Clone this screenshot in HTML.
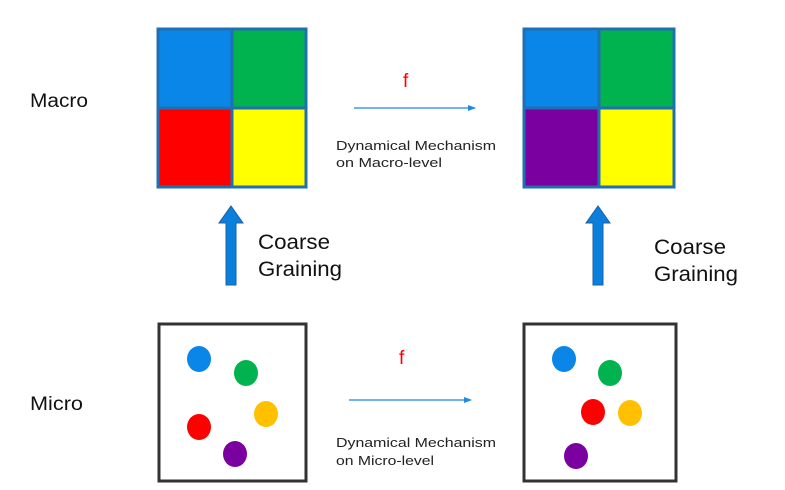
<!DOCTYPE html>
<html><head><style>
body{margin:0;width:785px;height:490px;background:#fff;overflow:hidden}
svg{display:block}
text{font-family:"Liberation Sans",sans-serif}
</style></head><body>
<svg width="785" height="490" viewBox="0 0 785 490">
<defs>
<marker id="ah" markerWidth="8" markerHeight="6" refX="7" refY="3" orient="auto" markerUnits="userSpaceOnUse"><path d="M0,0L8,3L0,6Z" fill="#1e88e5"/></marker>
</defs>
<rect x="158" y="29" width="74" height="79" fill="#0a86e8"/>
<rect x="232" y="29" width="74" height="79" fill="#00b34f"/>
<rect x="158" y="108" width="74" height="79" fill="#ff0000"/>
<rect x="232" y="108" width="74" height="79" fill="#ffff00"/>
<rect x="158" y="29" width="148" height="158" fill="none" stroke="#1f6fb5" stroke-width="3"/>
<line x1="232" y1="29" x2="232" y2="187" stroke="#1f6fb5" stroke-width="3"/>
<line x1="158" y1="108" x2="306" y2="108" stroke="#1f6fb5" stroke-width="3"/>
<rect x="524" y="29" width="75" height="79" fill="#0a86e8"/>
<rect x="599" y="29" width="75" height="79" fill="#00b34f"/>
<rect x="524" y="108" width="75" height="79" fill="#7a00a0"/>
<rect x="599" y="108" width="75" height="79" fill="#ffff00"/>
<rect x="524" y="29" width="150" height="158" fill="none" stroke="#1f6fb5" stroke-width="3"/>
<line x1="599" y1="29" x2="599" y2="187" stroke="#1f6fb5" stroke-width="3"/>
<line x1="524" y1="108" x2="674" y2="108" stroke="#1f6fb5" stroke-width="3"/>
<rect x="159" y="324" width="147" height="157" fill="none" stroke="#333" stroke-width="3"/>
<rect x="524" y="324" width="152" height="157" fill="none" stroke="#333" stroke-width="3"/>
<ellipse cx="199" cy="359" rx="12" ry="13" fill="#0a86e8"/>
<ellipse cx="246" cy="373" rx="12" ry="13" fill="#00b34f"/>
<ellipse cx="199" cy="427" rx="12" ry="13" fill="#ff0000"/>
<ellipse cx="266" cy="414" rx="12" ry="13" fill="#ffc000"/>
<ellipse cx="235" cy="454" rx="12" ry="13" fill="#7a00a0"/>
<ellipse cx="564" cy="359" rx="12" ry="13" fill="#0a86e8"/>
<ellipse cx="610" cy="373" rx="12" ry="13" fill="#00b34f"/>
<ellipse cx="593" cy="412" rx="12" ry="13" fill="#ff0000"/>
<ellipse cx="630" cy="413" rx="12" ry="13" fill="#ffc000"/>
<ellipse cx="576" cy="456" rx="12" ry="13" fill="#7a00a0"/>
<line x1="354" y1="108" x2="475" y2="108" stroke="#1e88e5" stroke-width="1.2" marker-end="url(#ah)"/>
<line x1="349" y1="400" x2="471" y2="400" stroke="#1e88e5" stroke-width="1.2" marker-end="url(#ah)"/>
<text x="403" y="87" fill="#ff0000" font-size="19">f</text>
<text x="399" y="364" fill="#ff0000" font-size="19">f</text>
<text x="336" y="150" font-size="13" fill="#222" textLength="160" lengthAdjust="spacingAndGlyphs">Dynamical Mechanism</text>
<text x="336" y="167" font-size="13" fill="#222" textLength="106" lengthAdjust="spacingAndGlyphs">on Macro-level</text>
<text x="336" y="447" font-size="13" fill="#222" textLength="160" lengthAdjust="spacingAndGlyphs">Dynamical Mechanism</text>
<text x="336" y="465" font-size="13" fill="#222" textLength="98" lengthAdjust="spacingAndGlyphs">on Micro-level</text>
<path d="M226,285V223H219L231,206L243,223H236V285Z" fill="#0a7fdc" stroke="#1f5f9f" stroke-width="1"/>
<path d="M593,285V223H586L598,206L610,223H603V285Z" fill="#0a7fdc" stroke="#1f5f9f" stroke-width="1"/>
<text x="258" y="249" font-size="21" fill="#111" textLength="72" lengthAdjust="spacingAndGlyphs">Coarse</text>
<text x="258" y="276" font-size="21" fill="#111" textLength="84" lengthAdjust="spacingAndGlyphs">Graining</text>
<text x="654" y="254" font-size="21" fill="#111" textLength="72" lengthAdjust="spacingAndGlyphs">Coarse</text>
<text x="654" y="281" font-size="21" fill="#111" textLength="84" lengthAdjust="spacingAndGlyphs">Graining</text>
<text x="30" y="107" font-size="19" fill="#111" textLength="58" lengthAdjust="spacingAndGlyphs">Macro</text>
<text x="30" y="410" font-size="19" fill="#111" textLength="53" lengthAdjust="spacingAndGlyphs">Micro</text>
</svg>
</body></html>
